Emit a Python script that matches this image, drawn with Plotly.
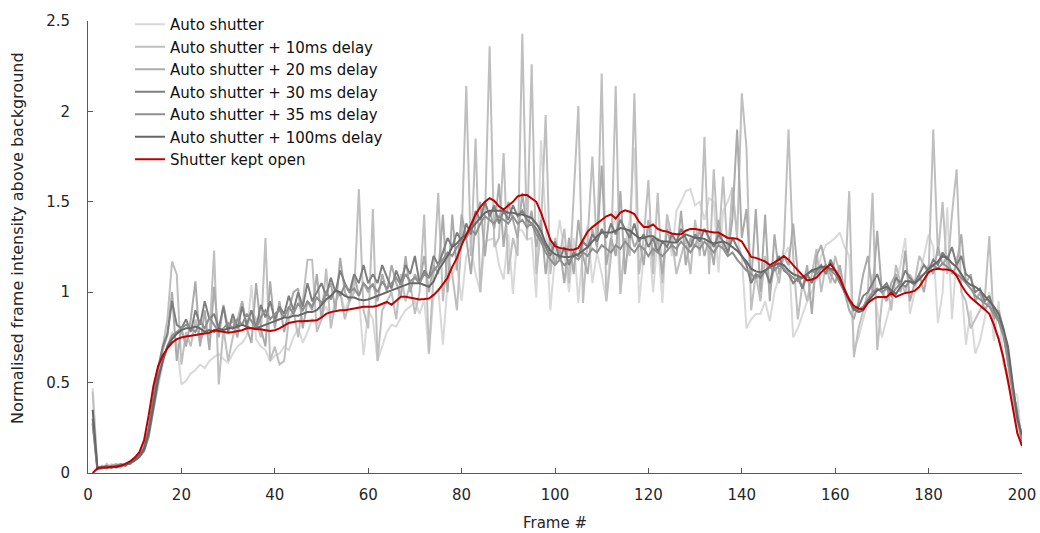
import plotly.graph_objects as go

frames = list(range(1, 201))

auto_shutter = [
    0.47, 0.02, 0.04, 0.02, 0.05, 0.03, 0.05, 0.04, 0.06, 0.07,
    0.09, 0.13, 0.22, 0.35, 0.48, 0.60, 0.70, 0.78, 0.72, 0.49,
    0.51, 0.55, 0.57, 0.60, 0.58, 0.62, 0.64, 0.66, 0.63, 0.61,
    0.66, 0.70, 0.72, 0.76, 1.04, 0.74, 0.70, 0.68, 0.62, 0.65,
    0.66, 0.70, 0.68, 0.75, 0.80, 0.72, 0.78, 0.85, 0.82, 0.88,
    0.92, 0.86, 0.95, 1.00, 0.90, 0.96, 1.02, 0.98, 0.65, 0.90,
    0.85, 0.62, 0.70, 0.78, 0.82, 0.81, 0.86, 0.90, 0.92, 0.95,
    0.88, 0.96, 0.66, 0.98, 1.02, 0.71, 1.05, 1.10, 1.15, 0.95,
    1.20, 1.25, 1.10, 1.00, 1.28, 1.29, 1.30, 1.15, 1.07, 1.32,
    0.99, 1.35, 1.34, 1.29, 1.30, 0.97, 1.84, 1.40, 0.90, 1.20,
    1.40, 1.22, 1.00, 1.30, 0.94, 1.25, 1.37, 1.05, 1.22, 1.10,
    0.95, 1.30, 1.45, 0.99, 1.25, 1.40, 1.80, 0.94, 1.20, 1.35,
    1.00, 1.30, 0.94, 1.43, 1.20, 1.45, 1.50, 1.56, 1.57, 1.48,
    1.50, 1.40, 1.52, 1.50, 1.11, 1.45, 1.50, 1.58, 1.30, 1.20,
    0.80, 0.85, 0.88, 0.88, 0.95, 0.84, 1.00, 1.09, 1.20, 1.25,
    0.75, 0.80, 0.88, 0.95, 1.00, 1.10, 1.20, 1.26, 1.28, 1.30,
    1.33, 1.25, 1.20, 0.68, 0.75, 0.85, 0.95, 1.10, 0.90, 0.75,
    0.85, 0.95, 1.05, 1.15, 1.30, 0.88, 1.00, 1.10, 1.20, 1.32,
    1.25, 0.83, 1.00, 1.47, 0.85, 1.20, 1.05, 0.71, 0.90, 0.66,
    0.73, 0.85, 1.00, 0.73, 0.95, 0.60, 0.55, 0.45, 0.43, 0.14,
]

delay_10ms = [
    0.45, 0.03, 0.02, 0.05, 0.03, 0.04, 0.03, 0.05, 0.05, 0.08,
    0.10, 0.15, 0.25, 0.40, 0.55, 0.70, 0.85, 1.17, 1.10, 0.60,
    0.78, 0.70, 0.85, 0.72, 0.80, 0.76, 1.23, 0.49, 0.80, 0.62,
    0.75, 0.85, 0.95, 0.80, 0.90, 0.85, 0.75, 1.30, 0.62, 0.70,
    0.60, 0.62, 0.85, 0.90, 0.75, 0.95, 1.18, 1.18, 0.78, 0.85,
    1.13, 0.80, 0.95, 1.00, 0.85, 0.95, 1.00, 1.57, 0.90, 0.80,
    1.46, 0.62, 0.90, 0.95, 1.00, 0.85, 1.10, 0.95, 1.05, 0.88,
    1.00, 1.43, 0.66, 1.10, 1.55, 0.95, 1.20, 1.10, 0.90, 1.30,
    2.14, 1.20, 1.85, 1.00, 1.40, 2.36, 1.25, 1.30, 1.77, 1.10,
    1.30, 1.20, 2.43, 1.29, 2.26, 1.10, 1.35, 1.98, 1.10, 1.30,
    1.20, 1.35, 1.05, 1.53, 2.03, 0.94, 1.30, 1.75, 1.22, 2.21,
    0.95, 1.20, 2.14, 0.99, 1.30, 1.20, 2.10, 1.10, 1.30, 1.62,
    1.10, 1.55, 1.05, 1.43, 1.30, 1.10, 1.20, 1.30, 1.10, 1.40,
    1.20, 1.86, 1.10, 1.68, 1.25, 1.64, 1.20, 1.58, 1.30, 2.10,
    1.80, 0.90, 1.10, 0.95, 1.20, 1.00, 1.15, 1.05, 1.25, 1.90,
    1.20, 0.85, 1.05, 0.95, 1.10, 1.24, 1.00, 1.15, 1.05, 1.20,
    1.10, 1.00, 1.56, 0.64, 0.80, 0.90, 1.00, 1.55, 0.68, 0.95,
    1.05, 0.90, 1.15, 1.05, 1.00, 1.10, 1.05, 1.20, 1.15, 1.10,
    1.90, 1.20, 1.50, 1.10, 1.43, 1.68, 1.00, 0.95, 0.80, 0.85,
    0.90, 0.95, 1.31, 0.80, 0.75, 0.62, 0.50, 0.40, 0.28, 0.18,
]

delay_20ms = [
    0.28, 0.02, 0.04, 0.03, 0.04, 0.05, 0.04, 0.05, 0.06, 0.07,
    0.09, 0.13, 0.24, 0.40, 0.56, 0.68, 0.76, 1.00, 0.62, 0.80,
    0.70, 0.85, 1.06, 0.70, 0.90, 0.68, 1.03, 0.75, 0.93, 0.80,
    0.85, 0.75, 0.95, 0.80, 0.72, 1.05, 0.80, 0.70, 1.06, 0.80,
    0.95, 0.78, 0.90, 1.00, 1.02, 0.80, 0.95, 0.90, 1.10, 0.85,
    1.00, 1.05, 0.90, 1.19, 1.00, 0.95, 1.10, 0.98, 1.05, 1.00,
    1.05, 0.95, 1.10, 1.00, 1.15, 1.05, 0.98, 1.20, 1.00, 1.10,
    1.05, 1.20, 1.00, 1.15, 1.10, 1.43, 1.00, 1.43, 1.12, 1.43,
    1.30, 1.10, 1.40, 1.50, 1.20, 1.45, 1.35, 1.60, 1.25, 1.50,
    1.40, 1.30, 1.55, 1.35, 1.45, 1.25, 1.40, 1.10, 1.30, 1.15,
    1.25, 1.05, 1.30, 1.10, 1.40, 1.20, 1.10, 1.35, 1.25, 1.70,
    1.15, 1.30, 1.20, 1.56, 1.10, 1.35, 1.25, 1.30, 1.15, 1.40,
    1.20, 1.30, 1.10, 1.35, 1.25, 1.20, 1.45, 1.15, 1.30, 1.25,
    1.35, 1.20, 1.30, 1.15, 1.40, 1.25, 1.20, 1.41, 1.90, 1.30,
    1.46, 1.05, 1.46, 1.00, 1.43, 0.95, 1.32, 1.10, 1.20, 1.15,
    1.38, 1.10, 1.02, 1.15, 0.88, 1.20, 1.26, 1.15, 1.10, 1.05,
    1.15, 1.00, 0.90, 0.85, 0.95, 1.10, 1.20, 1.00, 1.34, 1.00,
    0.95, 1.05, 1.10, 1.00, 1.23, 0.95, 1.05, 1.10, 1.00, 1.15,
    1.10, 1.25, 1.15, 1.20, 1.10, 1.15, 1.32, 1.05, 1.10, 0.95,
    1.00, 0.90, 0.95, 0.85, 0.90, 0.80, 0.60, 0.45, 0.35, 0.15,
]

delay_30ms = [
    0.30, 0.03, 0.03, 0.04, 0.03, 0.04, 0.05, 0.04, 0.06, 0.08,
    0.10, 0.14, 0.25, 0.42, 0.58, 0.70, 0.77, 0.95, 0.82, 0.80,
    0.85, 0.78, 0.90, 0.82, 0.95, 0.85, 0.88, 0.80, 0.92, 0.78,
    0.88, 0.80, 0.92, 0.82, 0.90, 0.80, 0.93, 0.86, 0.95, 0.85,
    0.92, 0.88, 0.98, 0.90, 1.00, 0.92, 1.05, 0.95, 1.00, 1.05,
    0.98, 1.08, 1.00, 1.12, 1.05, 1.00, 1.10, 1.05, 1.15, 1.05,
    1.10, 1.05, 1.15, 1.08, 1.02, 1.12, 1.05, 1.15, 1.10, 1.20,
    1.05, 1.12, 1.08, 1.20, 1.15, 1.22, 1.30, 1.25, 1.33, 1.28,
    1.38, 1.32, 1.45, 1.40, 1.50, 1.42, 1.48, 1.38, 1.45, 1.40,
    1.48, 1.42, 1.45, 1.40, 1.38, 1.35, 1.30, 1.25, 1.20, 1.28,
    1.18, 1.25, 1.15, 1.22, 1.20, 1.28, 1.25, 1.32, 1.28, 1.35,
    1.30, 1.38, 1.32, 1.40, 1.35, 1.30, 1.38, 1.28, 1.32, 1.25,
    1.30, 1.22, 1.28, 1.25, 1.32, 1.28, 1.35, 1.30, 1.25, 1.32,
    1.28, 1.35, 1.30, 1.25, 1.32, 1.28, 1.22, 1.30, 1.25, 1.20,
    1.15, 1.05, 1.10, 1.08, 1.12, 1.05, 1.15, 1.20, 1.12, 1.10,
    1.05, 1.08, 1.02, 1.10, 1.05, 1.12, 1.15, 1.10, 1.18, 1.12,
    1.08, 1.00, 0.95, 0.90, 0.92, 0.98, 1.00, 1.05, 1.10, 1.02,
    1.05, 1.00, 1.08, 1.05, 1.12, 1.08, 1.05, 1.10, 1.15, 1.12,
    1.18, 1.15, 1.22, 1.18, 1.25, 1.15, 1.20, 1.10, 1.08, 1.00,
    1.02, 0.95, 0.98, 0.90, 0.85, 0.78, 0.65, 0.48, 0.32, 0.20,
]

delay_35ms = [
    0.27, 0.02, 0.03, 0.03, 0.04, 0.03, 0.04, 0.05, 0.05, 0.07,
    0.09, 0.12, 0.20, 0.35, 0.50, 0.62, 0.70, 0.76, 0.78, 0.80,
    0.82, 0.80, 0.78, 0.84, 0.80, 0.86, 0.82, 0.78, 0.80, 0.83,
    0.80, 0.85, 0.82, 0.88, 0.84, 0.80, 0.86, 0.90, 0.85, 0.88,
    0.90, 0.86, 0.92, 0.88, 0.94, 0.90, 0.95, 0.92, 0.97, 0.94,
    1.00, 0.96, 1.02, 0.98, 1.04, 1.00, 1.02, 0.98, 1.05, 1.02,
    1.04, 1.00, 1.06, 1.02, 1.05, 1.08, 1.04, 1.10, 1.06, 1.08,
    1.05, 1.10, 1.08, 1.12, 1.15, 1.18, 1.22, 1.20, 1.25, 1.28,
    1.30, 1.35, 1.32, 1.38, 1.42, 1.40, 1.38, 1.42, 1.40, 1.38,
    1.42, 1.38, 1.40, 1.36, 1.38, 1.32, 1.28, 1.22, 1.18, 1.15,
    1.18, 1.15, 1.17, 1.20, 1.18, 1.22, 1.20, 1.24, 1.22, 1.26,
    1.24, 1.22, 1.26, 1.24, 1.28, 1.25, 1.22, 1.26, 1.24, 1.20,
    1.24, 1.22, 1.20, 1.23, 1.26, 1.24, 1.28, 1.25, 1.22, 1.26,
    1.24, 1.28, 1.25, 1.22, 1.26, 1.24, 1.20, 1.22, 1.18, 1.15,
    1.12, 1.10, 1.08, 1.10, 1.12, 1.14, 1.12, 1.15, 1.13, 1.10,
    1.08, 1.06, 1.08, 1.10, 1.12, 1.10, 1.13, 1.15, 1.12, 1.10,
    1.05, 1.00, 0.95, 0.92, 0.90, 0.92, 0.96, 1.00, 1.02, 1.00,
    1.02, 0.98, 1.02, 1.05, 1.03, 1.06, 1.04, 1.08, 1.10, 1.12,
    1.15, 1.13, 1.16, 1.14, 1.12, 1.10, 1.08, 1.05, 1.02, 0.98,
    0.96, 0.94, 0.92, 0.88, 0.84, 0.76, 0.62, 0.45, 0.30, 0.18,
]

delay_100ms = [
    0.35, 0.03, 0.03, 0.03, 0.03, 0.035, 0.04, 0.045, 0.055, 0.07,
    0.09, 0.13, 0.22, 0.38, 0.52, 0.62, 0.70, 0.74, 0.77, 0.79,
    0.80, 0.80, 0.81, 0.80, 0.78, 0.79, 0.78, 0.80, 0.79, 0.80,
    0.80, 0.81, 0.82, 0.81, 0.80, 0.80, 0.81, 0.82, 0.83, 0.84,
    0.85, 0.86, 0.86, 0.87, 0.87, 0.88, 0.89, 0.89, 0.90, 0.93,
    0.96, 0.98, 1.01, 1.00, 0.98, 0.97, 0.97, 0.96, 0.955, 0.96,
    0.97, 0.98, 0.99, 1.00, 1.01, 1.02, 1.03, 1.04, 1.05, 1.05,
    1.05, 1.04, 1.03, 1.06, 1.12, 1.16, 1.20, 1.25, 1.27, 1.30,
    1.32, 1.35, 1.38, 1.41, 1.44, 1.45, 1.45, 1.45, 1.45, 1.44,
    1.44, 1.43, 1.43, 1.42, 1.41, 1.38, 1.34, 1.27, 1.23, 1.21,
    1.20, 1.195, 1.195, 1.20, 1.21, 1.23, 1.25, 1.28, 1.31, 1.33,
    1.33, 1.33, 1.34, 1.355, 1.35, 1.34, 1.32, 1.30, 1.30, 1.31,
    1.31, 1.29, 1.28, 1.28, 1.275, 1.275, 1.30, 1.32, 1.31, 1.30,
    1.30, 1.295, 1.28, 1.27, 1.275, 1.28, 1.27, 1.25, 1.23, 1.20,
    1.17, 1.13, 1.115, 1.11, 1.12, 1.14, 1.15, 1.16, 1.15, 1.12,
    1.10, 1.09, 1.08, 1.10, 1.12, 1.13, 1.14, 1.14, 1.13, 1.12,
    1.07, 1.02, 0.96, 0.91, 0.89, 0.90, 0.95, 0.98, 1.01, 1.02,
    1.03, 1.01, 0.99, 1.03, 1.06, 1.06, 1.05, 1.07, 1.10, 1.13,
    1.15, 1.17, 1.20, 1.19, 1.16, 1.14, 1.10, 1.06, 1.04, 1.03,
    1.01, 0.98, 0.95, 0.92, 0.88, 0.80, 0.70, 0.50, 0.30, 0.21,
]

shutter_open = [
    0.00, 0.025, 0.03, 0.03, 0.035, 0.035, 0.04, 0.05, 0.065, 0.085,
    0.115, 0.18, 0.32, 0.48, 0.59, 0.65, 0.69, 0.72, 0.74, 0.75,
    0.755, 0.76, 0.765, 0.77, 0.772, 0.775, 0.79, 0.785, 0.78, 0.776,
    0.78, 0.785, 0.79, 0.80, 0.80, 0.795, 0.795, 0.79, 0.785, 0.79,
    0.80, 0.815, 0.83, 0.835, 0.84, 0.84, 0.842, 0.845, 0.845, 0.86,
    0.88, 0.89, 0.895, 0.90, 0.90, 0.905, 0.91, 0.915, 0.92, 0.92,
    0.92, 0.925, 0.935, 0.946, 0.93, 0.95, 0.975, 0.975, 0.97, 0.965,
    0.96, 0.962, 0.965, 0.985, 1.01, 1.045, 1.08, 1.14, 1.19, 1.26,
    1.32, 1.38, 1.43, 1.47, 1.50, 1.52, 1.505, 1.475, 1.457, 1.48,
    1.50, 1.53, 1.537, 1.537, 1.52, 1.50, 1.44, 1.36, 1.29, 1.255,
    1.245, 1.24, 1.235, 1.235, 1.245, 1.29, 1.335, 1.36, 1.38, 1.405,
    1.42, 1.43, 1.407, 1.44, 1.453, 1.445, 1.432, 1.39, 1.36, 1.36,
    1.375, 1.35, 1.34, 1.335, 1.325, 1.32, 1.32, 1.34, 1.35, 1.35,
    1.345, 1.34, 1.335, 1.33, 1.33, 1.315, 1.30, 1.298, 1.296, 1.28,
    1.24, 1.195, 1.19, 1.18, 1.17, 1.15, 1.165, 1.18, 1.20, 1.18,
    1.15, 1.12, 1.09, 1.065, 1.07, 1.08, 1.11, 1.135, 1.155, 1.12,
    1.08, 1.01, 0.96, 0.925, 0.91, 0.905, 0.94, 0.96, 0.974, 0.974,
    0.974, 0.996, 0.974, 0.985, 0.996, 1.00, 1.007, 1.03, 1.07, 1.11,
    1.125, 1.13, 1.125, 1.125, 1.118, 1.09, 1.04, 1.00, 0.97, 0.95,
    0.925, 0.905, 0.88, 0.82, 0.74, 0.64, 0.51, 0.36, 0.22, 0.15,
]

series_names = [
    "Auto shutter",
    "Auto shutter + 10ms delay",
    "Auto shutter + 20 ms delay",
    "Auto shutter + 30 ms delay",
    "Auto shutter + 35 ms delay",
    "Auto shutter + 100ms delay",
    "Shutter kept open",
]
series_values = [auto_shutter, delay_10ms, delay_20ms, delay_30ms,
                 delay_35ms, delay_100ms, shutter_open]
series_colors = ["#d9d9d9", "#bfbfbf", "#ababab", "#7f7f7f",
                 "#8f8f8f", "#676767", "#c00000"]
y_title = "Normalised frame intensity above background"
x_title = "Frame #"

for v in series_values:
    assert len(v) == len(frames), len(v)

FONT = "DejaVu Sans"
TXT = "#262626"

fig = go.Figure()
for name, vals, col in zip(series_names, series_values, series_colors):
    fig.add_trace(go.Scatter(
        x=frames, y=vals, name=name, mode="lines",
        line=dict(color=col, width=2), hoverinfo="skip",
    ))

fig.update_layout(
    width=1040, height=533,
    margin=dict(l=88, r=18, t=21, b=60, autoexpand=False),
    paper_bgcolor="white", plot_bgcolor="white",
    font=dict(family=FONT, size=15, color=TXT),
    showlegend=True,
    legend=dict(
        xref="container", yref="container",
        x=130 / 1040, y=1 - 8 / 533,
        xanchor="left", yanchor="top",
        bgcolor="rgba(0,0,0,0)", borderwidth=0,
        font=dict(family=FONT, size=15, color="#111111"),
        itemwidth=30, tracegroupgap=0,
    ),
    xaxis=dict(
        range=[0, 200], tickmode="linear", tick0=0, dtick=20,
        automargin=False,
        showgrid=False, zeroline=False,
        showline=True, linecolor="#595959", linewidth=1,
        ticks="inside", ticklen=5, tickcolor="#595959",
        ticklabelstandoff=8,
        tickfont=dict(family=FONT, size=15, color=TXT),
        title=dict(text=x_title, font=dict(family=FONT, size=15, color=TXT),
                   standoff=14),
    ),
    yaxis=dict(
        range=[0, 2.5], tickmode="linear", tick0=0, dtick=0.5,
        automargin=False,
        showgrid=False, zeroline=False,
        showline=True, linecolor="#595959", linewidth=1,
        ticks="inside", ticklen=5, tickcolor="#595959",
        ticklabelstandoff=14,
        tickfont=dict(family=FONT, size=15, color=TXT),
    ),
    annotations=[dict(
        text=y_title, xref="paper", yref="paper",
        x=(18 - 88) / 934, y=0.52, xanchor="center", yanchor="middle",
        textangle=-90, showarrow=False,
        font=dict(family=FONT, size=16, color=TXT),
    )],
)

fig.write_html("out.html")
